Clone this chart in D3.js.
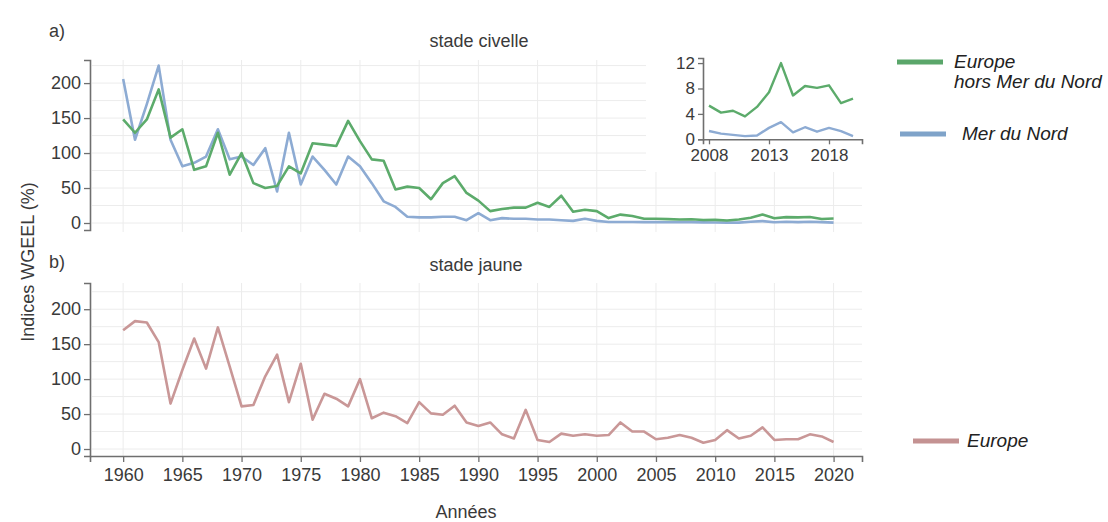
<!DOCTYPE html>
<html>
<head>
<meta charset="utf-8">
<script src="https://cdn.jsdelivr.net/npm/d3@7"></script>
<style>
  html, body { margin: 0; padding: 0; background: #fff; }
  svg { display: block; font-family: "Liberation Sans", Arial, sans-serif; }
</style>
</head>
<body>
<svg id="chart" width="1108" height="522"></svg>
<script>
// Annual WGEEL recruitment indices (%), 1960–2020
const years = d3.range(1960, 2021);

// glass eel stage, Europe outside the North Sea
const europeHorsMerDuNord = [
  148, 129, 148, 191, 122, 134, 76, 81, 129, 69,
  100, 57, 50, 53, 81, 71, 114, 112, 110, 146,
  117, 91, 89, 48, 52, 50, 34, 57, 67, 43,
  32, 17, 20, 22, 22, 29, 23, 39, 16, 19,
  17, 7, 12, 10, 6, 6, 5.5, 5, 5.3, 4.2,
  4.5, 3.6, 5.1, 7.4, 12, 6.9, 8.4, 8.1, 8.5, 5.7,
  6.4
];

// glass eel stage, North Sea
const merDuNord = [
  206, 119, 170, 225, 119, 81, 86, 95, 134, 91,
  95, 83, 107, 45, 129, 55, 95, 76, 55, 95,
  81, 57, 31, 23, 9, 8, 8, 9, 9, 4,
  14, 4, 7, 6, 6, 5, 5, 4, 3, 6,
  3, 1.5, 1.5, 1.4, 1.3, 1.2, 1.1, 1.2, 1.3, 0.9,
  0.7, 0.5, 0.6, 1.8, 2.7, 1.1, 1.9, 1.2, 1.8, 1.3,
  0.5
];

// yellow eel stage, Europe
const europeJaune = [
  170, 183, 181, 153, 65, 113, 158, 115, 174, 118,
  61, 63, 104, 135, 67, 122, 42, 79, 72, 61,
  100, 44, 52, 47, 37, 67, 51, 49, 62, 38,
  33, 38, 21, 15, 56, 13, 10, 22, 19, 21,
  19, 20, 38, 25, 25, 14, 16, 20, 16, 9,
  13, 27, 15, 19, 31, 13, 14, 14, 21, 18,
  10
];

const yearTicks = d3.range(1960, 2021, 5);
const valueTicks = [0, 50, 100, 150, 200];
const gridValues = d3.range(0, 226, 25);
const insetYearTicks = [2008, 2013, 2018];
const insetValueTicks = [0, 4, 8, 12];
const insetFrom = 2008;

const colors = { green: "#5cab6b", blue: "#8dabd3", pink: "#c99797" };
const textColor = "#3a3a3a";
const axisColor = "#6f6f6f";
const tickFont = "18px";

const svg = d3.select("#chart");

const x = d3.scaleLinear().domain([1957.2, 2022.4]).range([90, 862]);
const yTop = d3.scaleLinear().domain([-10, 233]).range([230, 60]);
const yBot = d3.scaleLinear().domain([-10, 237.5]).range([456, 283]);

const series = (vals) => years.map((yr, i) => ({ year: yr, v: vals[i] }));

function styleAxis(a, size) {
  a.select(".domain").attr("stroke", axisColor).attr("stroke-width", 1.6);
  a.selectAll(".tick line").attr("stroke", axisColor).attr("stroke-width", 1.3);
  a.selectAll(".tick text").attr("fill", textColor)
    .style("font-size", size).style("font-family", "Liberation Sans, Arial, sans-serif");
}

function panel(y, top, bottom) {
  const g = svg.append("g");
  // light grid
  g.append("g").selectAll("line").data(gridValues).join("line")
    .attr("x1", x(1957.2) + 2).attr("x2", x(2022.4))
    .attr("y1", d => y(d)).attr("y2", d => y(d))
    .attr("stroke", "#ececec").attr("stroke-width", 1);
  g.append("g").selectAll("line").data(yearTicks).join("line")
    .attr("x1", d => x(d)).attr("x2", d => x(d))
    .attr("y1", top).attr("y2", bottom)
    .attr("stroke", "#ececec").attr("stroke-width", 1);
  // y axis
  const ax = g.append("g").attr("transform", `translate(${x(1957.2)},0)`)
    .call(d3.axisLeft(y).tickValues(valueTicks).tickSize(6).tickPadding(3));
  styleAxis(ax, tickFont);
  return g;
}

function drawLine(g, y, vals, color) {
  const line = d3.line().x(d => x(d.year)).y(d => y(d.v));
  g.append("path").datum(series(vals))
    .attr("d", line).attr("fill", "none")
    .attr("stroke", color).attr("stroke-width", 2.6)
    .attr("stroke-linejoin", "round");
}

// a) glass eel stage
const gTop = panel(yTop, 60, 232);
drawLine(gTop, yTop, merDuNord, colors.blue);
drawLine(gTop, yTop, europeHorsMerDuNord, colors.green);

// b) yellow eel stage
const gBot = panel(yBot, 283, 456);
drawLine(gBot, yBot, europeJaune, colors.pink);

// x axis of the lower panel
const xAxis = svg.append("g").attr("transform", `translate(0,${yBot(-10)})`)
  .call(d3.axisBottom(x).tickValues(yearTicks).tickFormat(d3.format("d")).tickSize(6).tickPadding(6));
styleAxis(xAxis, tickFont);

// inset: recent years of the glass eel series
const xi = d3.scaleLinear().domain([2007.5, 2020.75]).range([703, 862]);
const yi = d3.scaleLinear().domain([0, 12.8]).range([139.3, 58]);
svg.append("rect").attr("x", 646).attr("y", 48).attr("width", 224).attr("height", 124).attr("fill", "#fff");
const recent = (vals) => series(vals).filter(d => d.year >= insetFrom);
const insetLine = d3.line().x(d => xi(d.year)).y(d => yi(d.v));
const gIn = svg.append("g");
gIn.append("path").datum(recent(merDuNord)).attr("d", insetLine)
  .attr("fill", "none").attr("stroke", colors.blue).attr("stroke-width", 2.4).attr("stroke-linejoin", "round");
gIn.append("path").datum(recent(europeHorsMerDuNord)).attr("d", insetLine)
  .attr("fill", "none").attr("stroke", colors.green).attr("stroke-width", 2.4).attr("stroke-linejoin", "round");
const iy = gIn.append("g").attr("transform", `translate(${xi(2007.5)},0)`)
  .call(d3.axisLeft(yi).tickValues(insetValueTicks).tickSize(5).tickPadding(3));
const ix = gIn.append("g").attr("transform", `translate(0,${yi(0)})`)
  .call(d3.axisBottom(xi).tickValues(insetYearTicks).tickFormat(d3.format("d")).tickSize(5).tickPadding(5));
styleAxis(iy, "17px");
styleAxis(ix, "17px");

// titles and labels
const label = (txt, px, py, opts = {}) => svg.append("text")
  .attr("x", px).attr("y", py).text(txt)
  .attr("fill", opts.fill || textColor)
  .attr("text-anchor", opts.anchor || "start")
  .style("font-size", (opts.size || 18) + "px")
  .style("font-style", opts.italic ? "italic" : "normal");

label("a)", 49, 37);
label("b)", 49, 268);
label("stade civelle", 479, 47, { anchor: "middle" });
label("stade jaune", 476, 271, { anchor: "middle" });
label("Années", 466, 518, { anchor: "middle" });
svg.append("text").attr("transform", "translate(34,262) rotate(-90)")
  .attr("text-anchor", "middle").attr("fill", textColor)
  .style("font-size", "18px").text("Indices WGEEL (%)");

// legend
const legend = [
  { color: "#5aa66a", y: 62, text: ["Europe", "hors Mer du Nord"], tx: 954, x1: 897, x2: 943 },
  { color: "#7fa3c9", y: 134, text: ["Mer du Nord"], tx: 962, x1: 900, x2: 946 },
  { color: "#c49292", y: 441, text: ["Europe"], tx: 967, x1: 913, x2: 959 }
];
legend.forEach(d => {
  svg.append("line").attr("x1", d.x1).attr("x2", d.x2)
    .attr("y1", d.y).attr("y2", d.y)
    .attr("stroke", d.color).attr("stroke-width", 5);
  d.text.forEach((t, j) => {
    label(t, d.tx, d.y + 6 + j * 20, { italic: true, fill: "#222", size: 19 });
  });
});
</script>
</body>
</html>
